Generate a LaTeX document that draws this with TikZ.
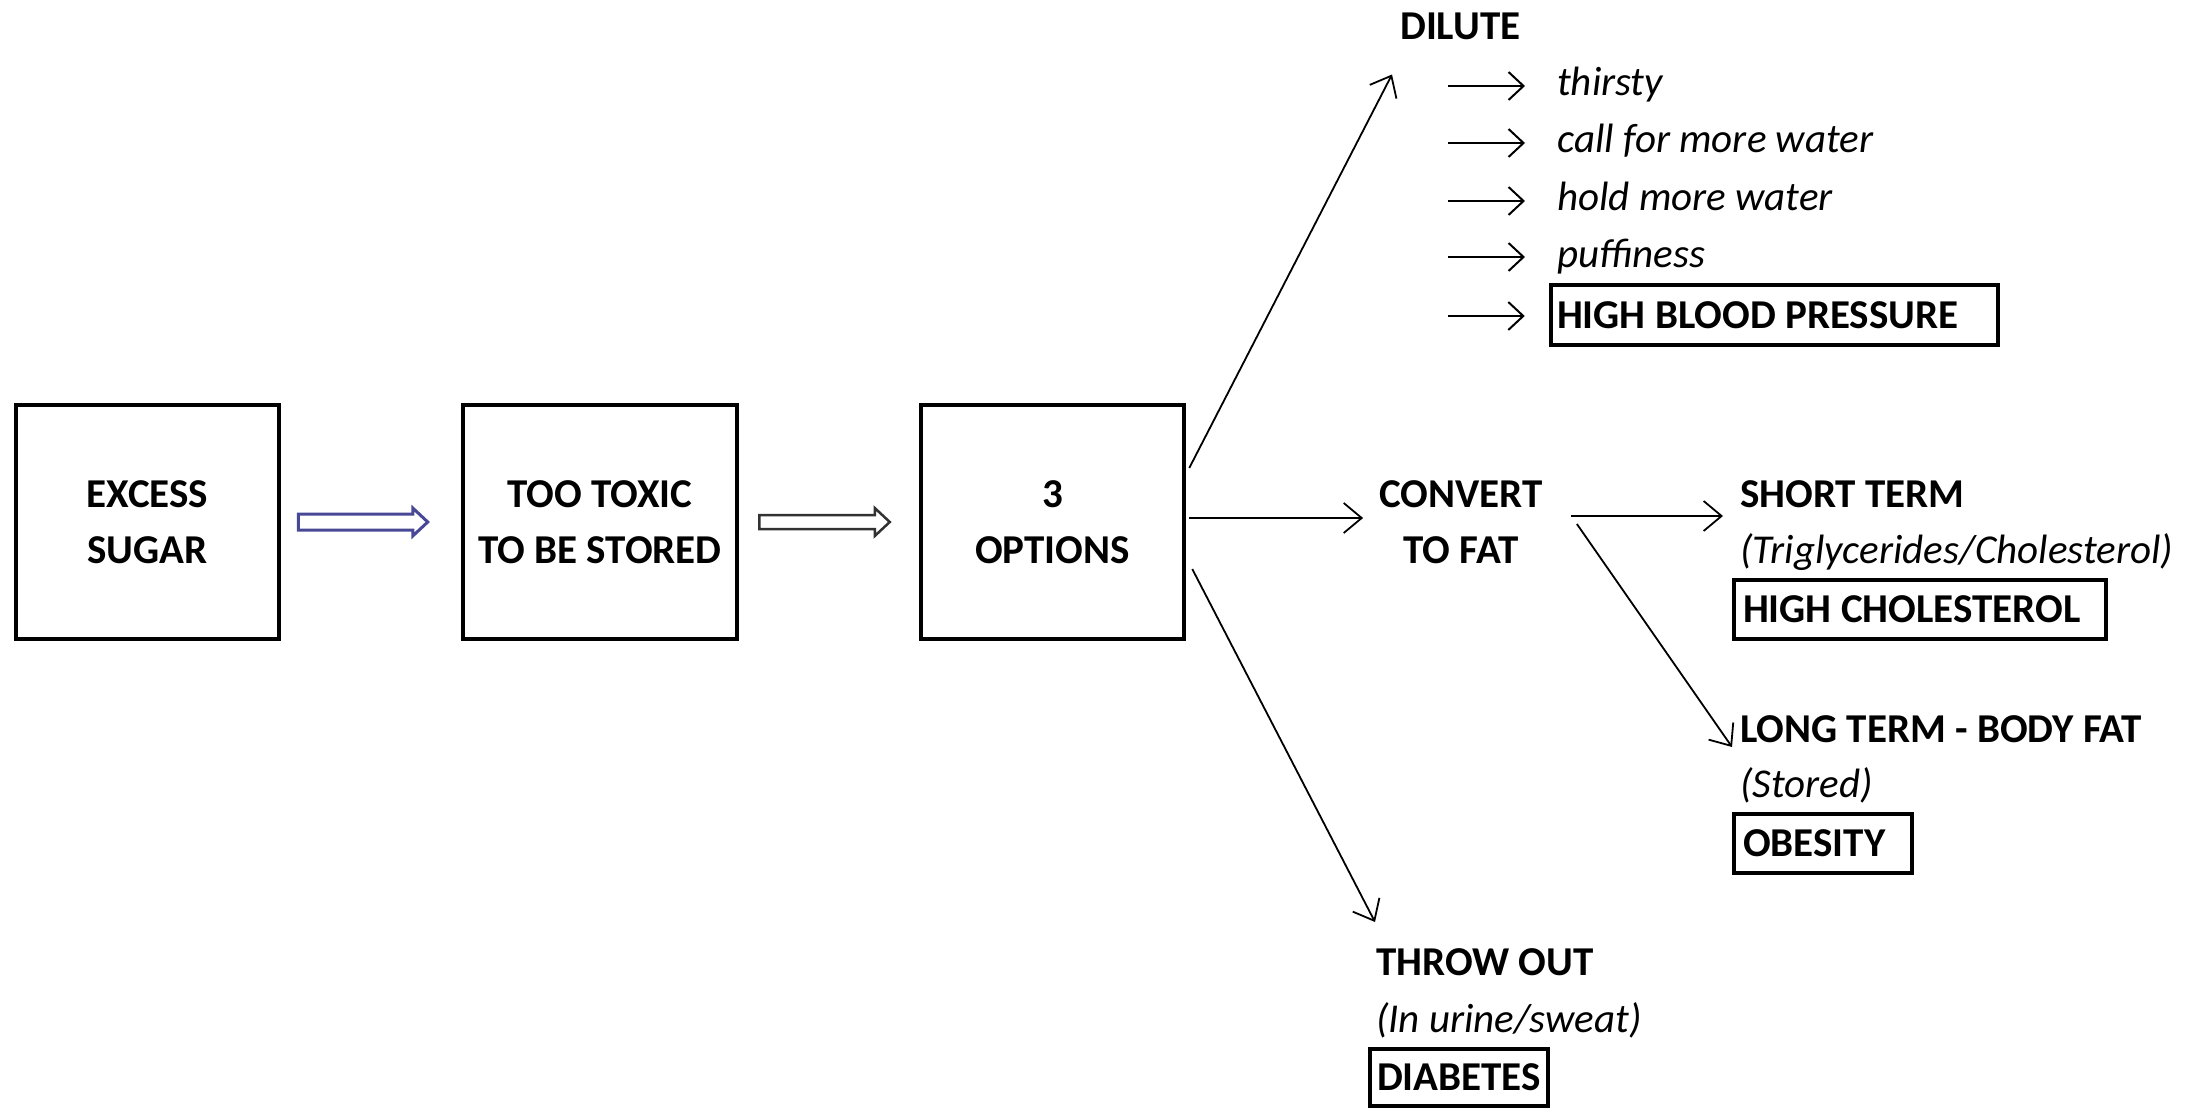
\documentclass[tikz,border=0pt]{standalone}
\usepackage{fontspec}
\setmainfont{Carlito}
\usetikzlibrary{arrows.meta,calc}
\definecolor{arrblue}{RGB}{72,72,150}
\definecolor{arrgray}{RGB}{50,50,50}
\newcommand\hollowarr[5]{\draw[#1] ($(#2)+(0,-#4)$) -- ($(#3)+(-15,-#4)$) -- ($(#3)+(-15,-#5)$) -- (#3) -- ($(#3)+(-15,#5)$) -- ($(#3)+(-15,#4)$) -- ($(#2)+(0,#4)$) -- cycle;}
\tikzset{
  bigbox/.style={draw, line width=4.5pt, minimum height=234pt, align=center, inner sep=0pt, font=\bfseries\fontsize{41}{56}\selectfont},
  lbl/.style={inner sep=0pt, anchor=base west, font=\bfseries\fontsize{41}{56}\selectfont},
  itl/.style={inner sep=0pt, anchor=base west, font=\itshape\fontsize{41}{56}\selectfont},
  resbox/.style={draw, line width=4.5pt, inner ysep=0pt, font=\bfseries\fontsize{41}{56}\selectfont},
  larrow/.style={line width=1.8pt, -{Straight Barb[length=18pt,width=30pt]}},
  sarrow/.style={line width=2pt, -{Straight Barb[length=15pt,width=28pt]}},
  dblarrow/.style={line width=3pt, fill=white, line join=miter}
}
\begin{document}
\begin{tikzpicture}[x=1pt,y=-1pt]
\useasboundingbox (0,0) rectangle (2204,1110);
% main boxes
\node[bigbox, minimum width=263pt] (box1) at (147.5,522) {EXCESS\\SUGAR};
\node[bigbox, minimum width=274pt] (box2) at (600,522) {TOO TOXIC\\TO BE STORED};
\node[bigbox, minimum width=263pt] (box3) at (1052.5,522) {3\\OPTIONS};
% hollow arrows
\coordinate (a1s) at ([xshift=17pt]box1.east);
\coordinate (a1e) at ([xshift=-33pt]box2.west);
\hollowarr{dblarrow, draw=arrblue}{a1s}{a1e}{8}{14}
\coordinate (a2s) at ([xshift=20pt]box2.east);
\coordinate (a2e) at ([xshift=-29pt]box3.west);
\hollowarr{dblarrow, draw=arrgray, line width=2.5pt}{a2s}{a2e}{7}{14}
% dilute branch
\node[lbl] (dilute) at (1400,40) {DILUTE};
\node[itl] (t1) at (1557,96) {thirsty};
\node[itl] (t2) at (1557,153) {call for more water};
\node[itl] (t3) at (1557,211) {hold more water};
\node[itl] (t4) at (1557,267) {puffiness};
\node[resbox, minimum height=60pt, inner xsep=6pt] (hbp) at (1774.5,315) {\makebox[435pt][l]{HIGH BLOOD PRESSURE}};
\draw[larrow] ([shift={(3,-54)}]box3.east) -- ([shift={(-8,34)}]dilute.south west);
\foreach \t in {t1,t2,t3,t4}{
  \draw[sarrow] ([shift={(-109,-10)}]\t.base west) -- ([shift={(-32,-10)}]\t.base west);
}
\draw[sarrow] ([shift={(-101,1)}]hbp.west) -- ([shift={(-24,1)}]hbp.west);
% convert branch
\node[inner sep=0pt, align=center, font=\bfseries\fontsize{41}{56}\selectfont] (conv) at (1461,522) {CONVERT\\TO FAT};
\draw[larrow] ([shift={(3,-4)}]box3.east) -- ([shift={(-16,-4)}]conv.west);
\node[lbl] (short) at (1740,507) {SHORT TERM};
\node[itl] (trig) at (1740,563) {(Triglycerides/Cholesterol)};
\node[resbox, minimum height=59pt, inner xsep=9pt] (hchol) at (1920,609.5) {\makebox[354pt][l]{HIGH CHOLESTEROL}};
\node[lbl] (long) at (1740,742) {LONG TERM - BODY FAT};
\node[itl] (stored) at (1740,797) {(Stored)};
\node[resbox, minimum height=59pt, inner xsep=9pt] (obes) at (1823,843.5) {\makebox[160pt][l]{OBESITY}};
\draw[larrow] ([shift={(28,-6)}]conv.east) -- ([shift={(-17,9)}]short.base west);
\draw[larrow] ([shift={(34,2)}]conv.east) -- ([shift={(-8,5)}]long.base west);
% throw out branch
\node[lbl] (throw) at (1376,975) {THROW OUT};
\node[itl] (urine) at (1376,1032) {(In urine/sweat)};
\node[resbox, minimum height=57pt, inner xsep=7pt] (diab) at (1459,1077.5) {\makebox[164pt][l]{DIABETES}};
\draw[larrow] ([shift={(6,47)}]box3.east) -- ([shift={(-1,-53)}]throw.base west);
\end{tikzpicture}
\end{document}
